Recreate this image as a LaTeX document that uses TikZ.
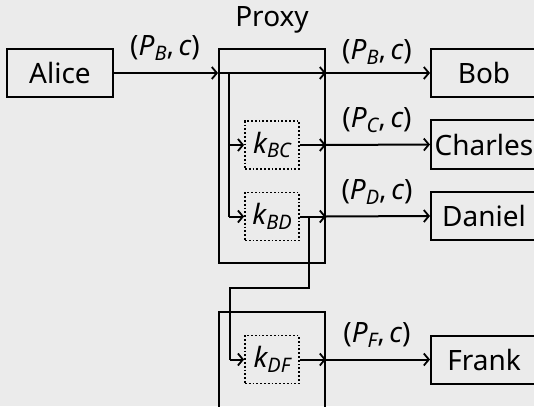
\documentclass[tikz,border=0pt]{standalone}
\usepackage{fontspec}
\setmainfont{Noto Sans}
\usetikzlibrary{arrows.meta}
\definecolor{bgc}{HTML}{EBEBEB}
\newcommand{\mv}[2]{{\itshape #1}\raisebox{-0.3ex}{\fontsize{20}{20}\selectfont\itshape #2}}
\newcommand{\pl}[1]{(\mv{P}{#1},\,{\itshape c})}
\begin{document}
\begin{tikzpicture}[x=1pt,y=-1pt,
  every node/.style={font=\fontsize{28}{30}\selectfont, inner sep=0pt},
  box/.style={draw, line width=2pt, minimum width=106pt, minimum height=48pt},
  kbox/.style={draw, dotted, line width=1.8pt, minimum width=54pt, minimum height=48pt},
  pbox/.style={draw, line width=2pt, minimum width=106pt},
  arr/.style={-{Straight Barb[length=5pt,width=12pt,line width=1.8pt]}, line width=2pt},
  ln/.style={line width=2pt}]
\fill[bgc] (0,0) rectangle (534,406);
\useasboundingbox (0,0) rectangle (534,406);
% boxes
\node[box] (alice) at (60,73) {Alice};
\node[pbox, minimum height=214pt] (proxy1) at (272,156) {};
\node[pbox, minimum height=118pt] (proxy2) at (272,371) {};
\node[anchor=base] (proxylbl) at (272,27) {Proxy};
\node[kbox] (kbc) at (272,145) {\mv{k}{BC}};
\node[kbox] (kbd) at (272,216.5) {\mv{k}{BD}};
\node[kbox] (kdf) at (272,359.5) {\mv{k}{DF}};
\node[box] (bob) at (484,73) {Bob};
\node[box] (charles) at (484,144.5) {Charles};
\node[box] (daniel) at (484,216) {Daniel};
\node[box] (frank) at (484,359.5) {Frank};
% coordinates
\coordinate (ain) at (alice.east -| proxy1.west);
\coordinate (aout) at (alice.east -| proxy1.east);
\coordinate (vtop) at (229,73);
\coordinate (vbc) at (kbc.west -| vtop);
\coordinate (vbd) at (kbd.west -| vtop);
\coordinate (bcout) at (kbc.east -| proxy1.east);
\coordinate (bdout) at (kbd.east -| proxy1.east);
\coordinate (bdtap) at (309,216.5);
\coordinate (c1) at (309,288);
\coordinate (c2) at (230,288);
\coordinate (c3) at (kdf.west -| c2);
\coordinate (dfout) at (kdf.east -| proxy2.east);
% connectors
\draw[arr] (alice.east) -- (ain);
\draw[arr] (ain) -- (aout);
\draw[arr] (aout) -- (bob.west);
\draw[ln] (vtop) -- (vbd);
\draw[arr] (vbc) -- (kbc.west);
\draw[arr] (vbd) -- (kbd.west);
\draw[arr] (kbc.east) -- (bcout);
\draw[arr] (bcout) -- (charles.west);
\draw[arr] (kbd.east) -- (bdout);
\draw[arr] (bdout) -- (daniel.west);
\draw[ln] (bdtap) -- (c1) -- (c2) -- (c3);
\draw[arr] (c3) -- (kdf.west);
\draw[arr] (kdf.east) -- (dfout);
\draw[arr] (dfout) -- (frank.west);
% labels
\node (l1) at (165,48) {\pl{B}};
\node (l2) at (377,52) {\pl{B}};
\node (l3) at (377,120) {\pl{C}};
\node (l4) at (377,192) {\pl{D}};
\node (l5) at (377,335) {\pl{F}};
\end{tikzpicture}
\end{document}
